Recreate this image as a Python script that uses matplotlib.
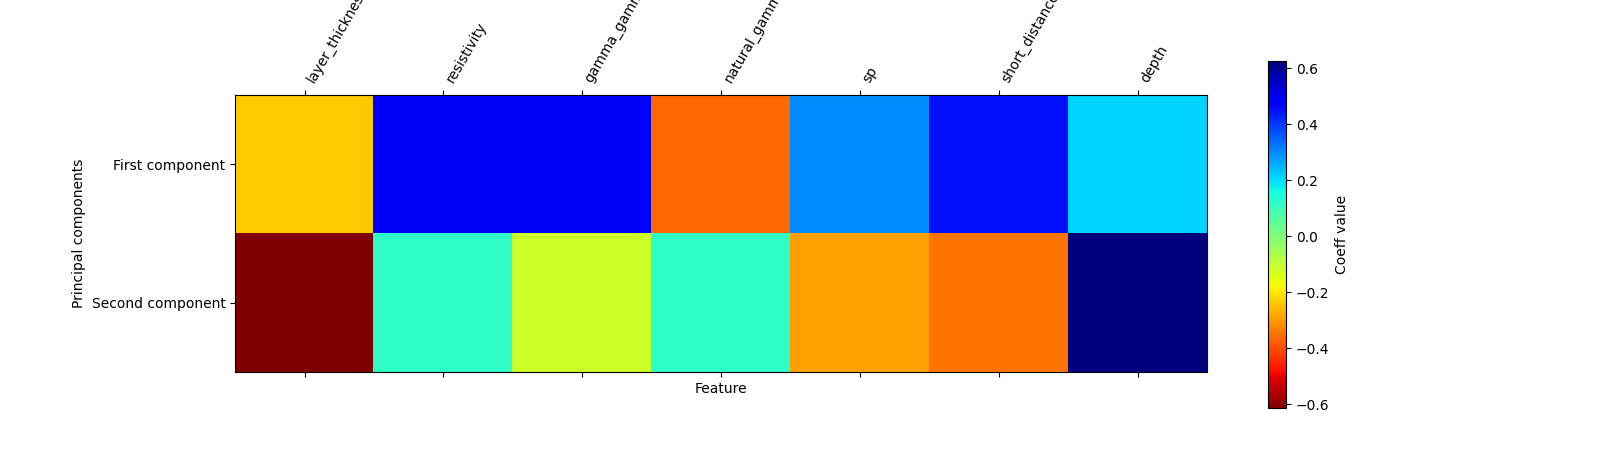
import matplotlib

matplotlib.use("Agg")

import matplotlib.pyplot as plt
import numpy as np

features = ["layer_thickness", "resistivity", "gamma_gamma", "natural_gamma",
            "sp", "short_distance", "depth"]
components = ["First component", "Second component"]
first_coeffs = [-0.235, 0.49, 0.49, -0.365, 0.30, 0.45, 0.21]
second_coeffs = [-0.614, 0.12, -0.12, 0.12, -0.29, -0.35, 0.625]

coeffs = np.array([first_coeffs, second_coeffs])

fig = plt.figure(figsize=(16, 4.57), dpi=100)
ax = fig.add_axes([0.147, 0.186, 0.6075, 0.606])
cax = fig.add_axes([0.7925, 0.107, 0.01125, 0.759])

im = ax.matshow(coeffs, cmap="jet_r", aspect="auto")
ax.set_xticks(range(len(features)))
ax.set_xticklabels(features, rotation=60, ha="left")
ax.set_yticks(range(len(components)))
ax.set_yticklabels(components)
ax.set_xlabel("Feature")
ax.set_ylabel("Principal components")

cbar = fig.colorbar(im, cax=cax)
cbar.set_label("Coeff value")

fig.savefig("out.png")
plt.close(fig)
